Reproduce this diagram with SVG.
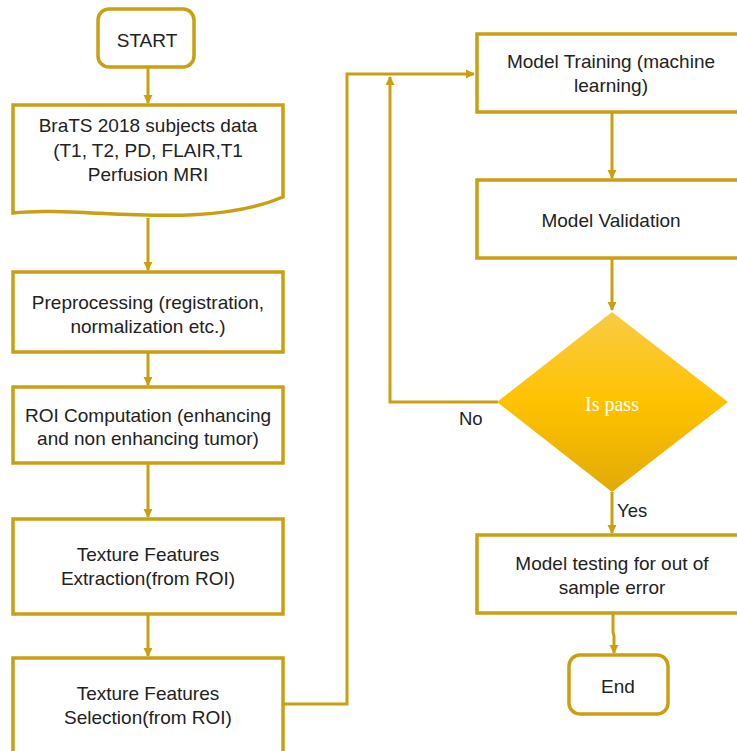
<svg xmlns="http://www.w3.org/2000/svg" width="737" height="751" viewBox="0 0 737 751">
<defs>
<style>
.box{fill:#fff;stroke:#C9A012;stroke-width:3.5}
.ln{fill:none;stroke:#C9A012;stroke-width:3}
.t{font-family:"Liberation Sans",Arial,sans-serif;font-size:19px;fill:#222;text-anchor:middle}
.lbl{font-family:"Liberation Sans",Arial,sans-serif;font-size:18.5px;fill:#222}
</style>
<marker id="ah" markerWidth="10" markerHeight="10" refX="8" refY="5" orient="auto" markerUnits="userSpaceOnUse">
<path d="M0,0.5 L9,5 L0,9.5 Z" fill="#C9A012"/>
</marker>
<linearGradient id="dg" x1="0" y1="0" x2="0" y2="1">
<stop offset="0" stop-color="#F8CB45"/>
<stop offset="0.5" stop-color="#FFC200"/>
<stop offset="1" stop-color="#E2AA06"/>
</linearGradient>
</defs>
<rect width="737" height="751" fill="#fff"/>
<g id="connectors">
<path class="ln" d="M148,67 V103" marker-end="url(#ah)"/>
<path class="ln" d="M148,218 V270" marker-end="url(#ah)"/>
<path class="ln" d="M148,352 V385" marker-end="url(#ah)"/>
<path class="ln" d="M148,463 V517" marker-end="url(#ah)"/>
<path class="ln" d="M148,614 V656" marker-end="url(#ah)"/>
<path class="ln" d="M283,704 H347 V74 H474" marker-end="url(#ah)"/>
<path class="ln" d="M612,112 V178" marker-end="url(#ah)"/>
<path class="ln" d="M612,258 V310" marker-end="url(#ah)"/>
<path class="ln" d="M498,402 H390 V77" marker-end="url(#ah)"/>
<path class="ln" d="M612,492 V533" marker-end="url(#ah)"/>
<path class="ln" d="M613,613 V632 L614,636 V653" marker-end="url(#ah)"/>
</g>
<g id="start">
<rect class="box" x="98" y="9" width="96" height="58" rx="11"/>
<text class="t" x="147" y="47">START</text>
</g>
<g id="data">
<path class="box" d="M13,105 H283 V197 C200,232 80,205 13,213 Z"/>
<text class="t" x="148" y="132">BraTS 2018 subjects data</text>
<text class="t" x="148" y="157">(T1, T2, PD, FLAIR,T1</text>
<text class="t" x="148" y="181">Perfusion MRI</text>
</g>
<g id="preprocessing">
<rect class="box" x="13" y="272" width="270" height="80"/>
<text class="t" x="148" y="309">Preprocessing (registration,</text>
<text class="t" x="148" y="333">normalization etc.)</text>
</g>
<g id="roi">
<rect class="box" x="13" y="387" width="270" height="76"/>
<text class="t" x="148" y="422">ROI Computation (enhancing</text>
<text class="t" x="148" y="445">and non enhancing tumor)</text>
</g>
<g id="extraction">
<rect class="box" x="13" y="519" width="270" height="95"/>
<text class="t" x="148" y="561">Texture Features</text>
<text class="t" x="148" y="585">Extraction(from ROI)</text>
</g>
<g id="selection">
<rect class="box" x="13" y="658" width="270" height="110"/>
<text class="t" x="148" y="700">Texture Features</text>
<text class="t" x="148" y="724">Selection(from ROI)</text>
</g>
<g id="training">
<rect class="box" x="477" y="34" width="280" height="78"/>
<text class="t" x="611" y="68">Model Training (machine</text>
<text class="t" x="611" y="92">learning)</text>
</g>
<g id="validation">
<rect class="box" x="477" y="180" width="280" height="78"/>
<text class="t" x="611" y="227">Model Validation</text>
</g>
<g id="decision">
<path d="M612,312 L728,402 L612,492 L497,402 Z" fill="url(#dg)"/>
<text x="612" y="411" font-family="'Liberation Serif','Times New Roman',serif" font-size="20" fill="#fff" text-anchor="middle">Is pass</text>
<text class="lbl" x="459" y="425">No</text>
<text class="lbl" x="617" y="517">Yes</text>
</g>
<g id="testing">
<rect class="box" x="477" y="535" width="280" height="78"/>
<text class="t" x="612" y="570">Model testing for out of</text>
<text class="t" x="612" y="594">sample error</text>
</g>
<g id="end">
<rect class="box" x="569" y="655" width="99" height="59" rx="11"/>
<text class="t" x="618" y="693">End</text>
</g>
</svg>
